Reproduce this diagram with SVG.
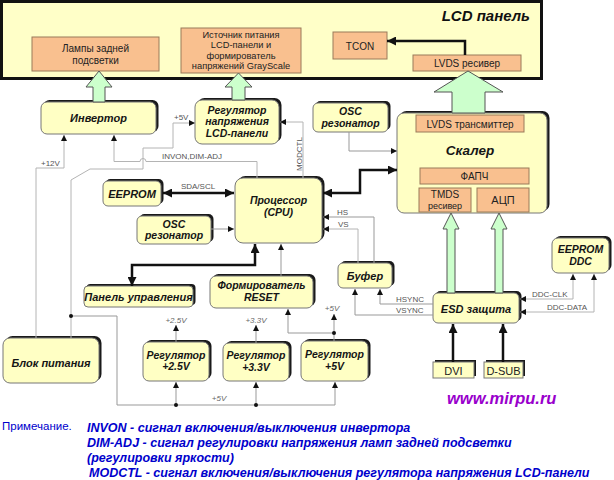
<svg xmlns="http://www.w3.org/2000/svg" width="614" height="480" viewBox="0 0 614 480">
<style>
text{font-family:"Liberation Sans",Arial,"Noto Sans",sans-serif}
.sh{fill:#1a1a1a}
.yb{fill:#FFFFC4;stroke:#777;stroke-width:1}
.ob{fill:#F9C08F;stroke:#9a7a5a;stroke-width:1}
.ga{fill:#CCFFCC;stroke:#555;stroke-width:1}
.bi{font-weight:bold;font-style:italic;font-size:11px;fill:#151515;text-anchor:middle}
.bm{font-weight:bold;font-style:italic;font-size:10.5px;fill:#151515;text-anchor:middle}
.n{font-size:10px;fill:#222;text-anchor:middle}
.sg{font-size:8px;fill:#555}
.sgi{font-size:8px;fill:#666;font-style:italic}
.w{stroke:#999;stroke-width:1;fill:none}
.wl{stroke:#b4b4b4;stroke-width:1;fill:none}
.tk{stroke:#111;stroke-width:2.5;fill:none}
.note{font-weight:bold;font-style:italic;font-size:12.5px;fill:#0000CC}
</style>
<defs>
<marker id="a" viewBox="0 0 10 10" refX="10" refY="5" markerWidth="8" markerHeight="6" orient="auto-start-reverse" markerUnits="userSpaceOnUse"><path d="M0,0 L10,5 L0,10 z" fill="#111"/></marker>
<marker id="b" viewBox="0 0 10 10" refX="10" refY="5" markerWidth="11" markerHeight="9" orient="auto-start-reverse" markerUnits="userSpaceOnUse"><path d="M0,0 L10,5 L0,10 z" fill="#111"/></marker>
</defs>

<!-- LCD panel -->
<g id="lcd-panel">
<rect x="1.5" y="1.5" width="540" height="77" fill="#FFFFC8" stroke="#111" stroke-width="3"/>
<text x="530" y="21" style="font-weight:bold;font-style:italic;font-size:15px;fill:#111" text-anchor="end">LCD панель</text>
</g>
<g id="lamps"><rect class="ob" x="32" y="37" width="127" height="34"/><text class="n" x="95.5" y="52">Лампы задней</text><text class="n" x="95.5" y="63.5">подсветки</text></g>
<g id="lcd-power"><rect class="ob" x="181" y="28" width="120" height="45"/><text class="n" x="241" y="37.5" style="font-size:9.3px">Источник питания</text><text class="n" x="241" y="48" style="font-size:9.3px">LCD-панели и</text><text class="n" x="241" y="58.5" style="font-size:9.3px">формирователь</text><text class="n" x="241" y="69" style="font-size:9.3px">напряжений GrayScale</text></g>
<g id="tcon"><rect class="ob" x="333" y="32" width="54" height="27"/><text class="n" x="360" y="49.5">TCON</text></g>
<g id="lvds-rx"><rect class="ob" x="413" y="55" width="108" height="16"/><text class="n" x="467" y="66.5">LVDS ресивер</text></g>

<!-- yellow nodes -->
<g id="inverter"><rect class="sh" x="43.5" y="100" width="115" height="32" rx="6"/><rect class="yb" x="41" y="102" width="115" height="32" rx="6"/><text class="bi" x="98.5" y="122">Инвертор</text></g>
<g id="reg-lcd"><rect class="sh" x="197.5" y="98" width="84" height="44" rx="7"/><rect class="yb" x="195" y="100" width="84" height="44" rx="7"/><text class="bm" x="237" y="113.5">Регулятор</text><text class="bm" x="237" y="125.3">напряжения</text><text class="bm" x="237" y="137.1">LCD-панели</text></g>
<g id="osc-top"><rect class="sh" x="315.5" y="101" width="75" height="29" rx="5"/><rect class="yb" x="313" y="103" width="75" height="29" rx="5"/><text class="bm" x="350.5" y="115">OSC</text><text class="bm" x="350.5" y="126.8">резонатор</text></g>
<g id="scaler"><rect class="sh" x="399.5" y="111" width="150" height="100" rx="7"/><rect class="yb" x="397" y="113" width="150" height="100" rx="7"/><text class="bi" x="470" y="155" style="font-size:13.5px">Скалер</text>
<rect class="ob" x="416" y="115" width="108" height="17"/><text class="n" x="470" y="127.5">LVDS трансмиттер</text>
<rect class="ob" x="420" y="168" width="109" height="16"/><text class="n" x="474.5" y="180">ФАПЧ</text>
<rect class="ob" x="419" y="188" width="52" height="24"/><text class="n" x="445" y="198">TMDS</text><text class="n" x="445" y="208.6" style="font-size:9px">ресивер</text>
<rect class="ob" x="477" y="188" width="52" height="24"/><text class="n" x="503" y="204" style="font-size:11px">АЦП</text></g>
<g id="eeprom"><rect class="sh" x="105.5" y="179" width="58" height="25" rx="5"/><rect class="yb" x="103" y="181" width="58" height="25" rx="5"/><text class="bi" x="132" y="198">EEPROM</text></g>
<g id="cpu"><rect class="sh" x="237.5" y="176" width="87" height="65" rx="8"/><rect class="yb" x="235" y="178" width="87" height="65" rx="8"/><text class="bm" x="278.5" y="204">Процессор</text><text class="bm" x="278.5" y="215.8">(CPU)</text></g>
<g id="osc-left"><rect class="sh" x="139.5" y="214" width="74" height="28" rx="5"/><rect class="yb" x="137" y="216" width="74" height="28" rx="5"/><text class="bm" x="174" y="227.5">OSC</text><text class="bm" x="174" y="239.3">резонатор</text></g>
<g id="control-panel"><rect class="sh" x="86.5" y="284" width="109" height="21" rx="4"/><rect class="yb" x="84" y="286" width="109" height="21" rx="4"/><text class="bi" x="138.5" y="301">Панель управления</text></g>
<g id="reset"><rect class="sh" x="212.5" y="274" width="103" height="32" rx="6"/><rect class="yb" x="210" y="276" width="103" height="32" rx="6"/><text class="bm" x="261.5" y="289">Формирователь</text><text class="bm" x="261.5" y="300.8">RESET</text></g>
<g id="buffer"><rect class="sh" x="340.5" y="261" width="54" height="25" rx="5"/><rect class="yb" x="338" y="263" width="54" height="25" rx="5"/><text class="bi" x="365" y="280">Буфер</text></g>
<g id="eeprom-ddc"><rect class="sh" x="554.5" y="236" width="57" height="35" rx="6"/><rect class="yb" x="552" y="238" width="57" height="35" rx="6"/><text class="bm" x="580.5" y="253">EEPROM</text><text class="bm" x="580.5" y="264.8">DDC</text></g>
<g id="esd"><rect class="sh" x="435.5" y="291" width="86" height="30" rx="5"/><rect class="yb" x="433" y="293" width="86" height="30" rx="5"/><text class="bi" x="476" y="312.5">ESD защита</text></g>
<g id="dvi"><rect class="sh" x="435" y="360" width="41" height="16"/><rect class="yb" x="433" y="362" width="41" height="16"/><text class="n" x="453.5" y="374.5" style="font-size:11px">DVI</text></g>
<g id="dsub"><rect class="sh" x="486" y="360" width="39" height="16"/><rect class="yb" x="484" y="362" width="39" height="16"/><text class="n" x="503.5" y="374.5" style="font-size:11px">D-SUB</text></g>
<g id="psu"><rect class="sh" x="5.5" y="336" width="96" height="45" rx="7"/><rect class="yb" x="3" y="338" width="96" height="45" rx="7"/><text class="bi" x="51" y="367">Блок питания</text></g>
<g id="reg25"><rect class="sh" x="145.5" y="340" width="66" height="39" rx="6"/><rect class="yb" x="143" y="342" width="66" height="39" rx="6"/><text class="bm" x="176" y="358.5">Регулятор</text><text class="bm" x="176" y="370.3">+2.5V</text></g>
<g id="reg33"><rect class="sh" x="225.5" y="341" width="66" height="38" rx="6"/><rect class="yb" x="223" y="343" width="66" height="38" rx="6"/><text class="bm" x="256" y="359">Регулятор</text><text class="bm" x="256" y="370.8">+3.3V</text></g>
<g id="reg5"><rect class="sh" x="303.5" y="339" width="67" height="40" rx="6"/><rect class="yb" x="301" y="341" width="67" height="40" rx="6"/><text class="bm" x="334.5" y="358">Регулятор</text><text class="bm" x="334.5" y="369.8">+5V</text></g>

<!-- connectors -->
<g id="connectors">
<path class="ga" d="M99,71 L112,87 L105,87 L105,102 L93,102 L93,87 L86,87 Z"/>
<path class="ga" d="M238.5,73 L252,87 L245,87 L245,100 L232,100 L232,87 L225,87 Z"/>
<path class="ga" d="M468,71 L503,92 L485,92 L485,113 L452,113 L452,92 L434,92 Z"/>
<path class="ga" d="M451,213 L459,229 L455,229 L455,293 L447,293 L447,229 L443,229 Z"/>
<path class="ga" d="M499,213 L507,229 L503,229 L503,293 L495,293 L495,229 L491,229 Z"/>

<path class="tk" d="M465,55 V41 H387" marker-end="url(#b)"/>
<path class="tk" d="M163,193 H234" marker-start="url(#b)" marker-end="url(#b)"/>
<path class="tk" d="M323,193 H360 V170 H397" marker-start="url(#b)" marker-end="url(#b)"/>
<path class="tk" d="M255,244 V265 H132 V286" marker-start="url(#b)" marker-end="url(#b)"/>
<path class="tk" d="M453,362 V324" marker-end="url(#b)"/>
<path class="tk" d="M503,362 V324" marker-end="url(#b)"/>

<path class="wl" d="M36,338 V168 H64 V135" marker-end="url(#a)"/>
<path class="wl" d="M71,338 V180 L90,169 H143 V148 H173 V123 H195" marker-end="url(#a)"/>
<path class="wl" d="M257,178 V161.5 H146 A3,3 0 0 0 140,161.5 H114 V135" marker-end="url(#a)"/>
<path class="wl" d="M303,178 V122 H280" marker-end="url(#a)"/>
<path class="w" d="M349,132 V151 H397" marker-end="url(#a)"/>
<path class="w" d="M211,229 H234" marker-end="url(#a)"/>
<path class="w" d="M281,276 V244" marker-end="url(#a)"/>
<path class="w" d="M374,263 V217 H323" marker-end="url(#a)"/>
<path class="wl" d="M358,263 V229 H323" marker-end="url(#a)"/>
<path class="w" d="M433,304 H380 V289" marker-end="url(#a)"/>
<path class="w" d="M433,315 H355 V289" marker-end="url(#a)"/>
<path class="wl" d="M573,274 V299 H520" marker-start="url(#a)" marker-end="url(#a)"/>
<path class="wl" d="M594,274 V312 H520" marker-start="url(#a)" marker-end="url(#a)"/>

<path class="w" d="M176,342 V325" marker-end="url(#a)"/>
<path class="w" d="M256,343 V325" marker-end="url(#a)"/>
<path class="w" d="M334,341 V314" marker-end="url(#a)"/>
<path class="w" d="M334,333 H288 V309" marker-end="url(#a)"/>
<path class="w" d="M71,316 H117 V405 H335 V382" marker-end="url(#a)"/>
<path class="w" d="M176,405 V382" marker-end="url(#a)"/>
<path class="w" d="M256,405 V382" marker-end="url(#a)"/>
<circle cx="71" cy="316" r="2" fill="#111"/>
<circle cx="176" cy="405" r="2" fill="#111"/>
<circle cx="256" cy="405" r="2" fill="#111"/>
<circle cx="334" cy="333" r="2" fill="#111"/>

<text class="sg" x="41" y="166">+12V</text>
<text class="sg" x="174" y="120">+5V</text>
<text class="sg" x="162" y="159">INVON,DIM-ADJ</text>
<text class="sg" x="302" y="154" text-anchor="middle" transform="rotate(-90 302 154)">MODCTL</text>
<text class="sg" x="198" y="189" text-anchor="middle">SDA/SCL</text>
<text class="sg" x="337" y="215">HS</text>
<text class="sg" x="338" y="227">VS</text>
<text class="sg" x="396" y="302">HSYNC</text>
<text class="sg" x="396" y="313">VSYNC</text>
<text class="sg" x="532" y="297">DDC-CLK</text>
<text class="sg" x="547" y="310">DDC-DATA</text>
<text class="sgi" x="176" y="322.5" text-anchor="middle">+2.5V</text>
<text class="sgi" x="256" y="322.5" text-anchor="middle">+3.3V</text>
<text class="sgi" x="332" y="311" text-anchor="middle">+5V</text>
<text class="sgi" x="219" y="401" text-anchor="middle">+5V</text>
</g>

<text x="447" y="404" style="font-weight:bold;font-style:italic;font-size:16.5px;fill:#9900CC">www.mirpu.ru</text>
<text x="2" y="430" style="font-size:11.5px;fill:#0000CC">Примечание.</text>
<text class="note" x="87" y="432">INVON - сигнал включения/выключения инвертора</text>
<text class="note" x="87" y="447">DIM-ADJ - сигнал регулировки напряжения ламп задней подсветки</text>
<text class="note" x="87" y="462">(регулировки яркости)</text>
<text class="note" x="89" y="477">MODCTL - сигнал включения/выключения регулятора напряжения LCD-панели</text>
</svg>
